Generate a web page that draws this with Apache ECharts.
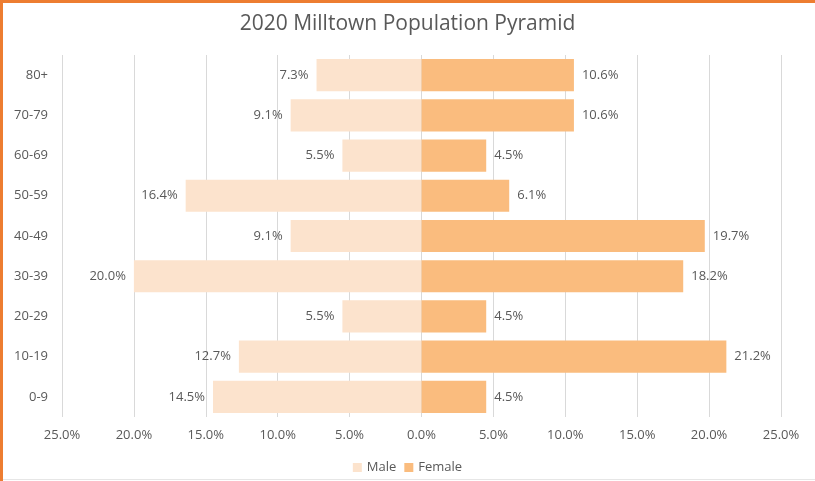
<!DOCTYPE html>
<html>
<head>
<meta charset="utf-8">
<script src="https://cdn.jsdelivr.net/npm/echarts@6/dist/echarts.min.js"></script>
<style>
  html, body { margin: 0; padding: 0; background: #fff; }
  #chart { width: 815px; height: 481px; }
</style>
</head>
<body>
<div id="chart"></div>
<script>
// age groups, bottom to top
var ageGroups = ["0-9", "10-19", "20-29", "30-39", "40-49", "50-59", "60-69", "70-79", "80+"];
var malePct = [14.5, 12.7, 5.5, 20.0, 9.1, 16.4, 5.5, 9.1, 7.3];
var femalePct = [4.5, 21.2, 4.5, 18.2, 19.7, 6.1, 4.5, 10.6, 10.6];
var xTicks = [-25, -20, -15, -10, -5, 0, 5, 10, 15, 20, 25];

var font = "Open Sans";
var textColor = "#595959";

var myChart = echarts.init(document.getElementById("chart"));

var option = {
  backgroundColor: "#fff",
  textStyle: { fontFamily: font },
  title: {
    text: "2020 Milltown Population Pyramid",
    left: "center",
    top: 9,
    textStyle: { fontFamily: font, fontSize: 21, fontWeight: "normal", color: textColor },
  },
  legend: {
    bottom: 2,
    left: "center",
    itemWidth: 9,
    itemHeight: 9,
    itemGap: 8,
    icon: "rect",
    textStyle: { fontFamily: font, fontSize: 13, color: textColor },
    data: ["Male", "Female"],
  },
  grid: {
    left: 62,
    right: 34,
    top: 55,
    bottom: 64,
  },
  xAxis: {
    type: "value",
    min: xTicks[0],
    max: xTicks[xTicks.length - 1],
    interval: 5,
    axisLine: { show: false },
    axisTick: { show: false },
    splitLine: { show: true, lineStyle: { color: "#D9D9D9", width: 1 } },
    axisLabel: {
      margin: 12,
      fontFamily: font,
      fontSize: 13,
      color: textColor,
      formatter: function (v) {
        return Math.abs(v).toFixed(1) + "%";
      },
    },
  },
  yAxis: {
    type: "category",
    data: ageGroups,
    axisLine: { show: false },
    axisTick: { show: false },
    axisLabel: { margin: 14, fontFamily: font, fontSize: 13, color: textColor },
  },
  series: [
    {
      name: "Male",
      type: "bar",
      data: malePct.map(function (v) { return -v; }),
      barWidth: "80%",
      barGap: "-100%",
      itemStyle: { color: "#FCE3CD" },
      label: {
        show: true,
        position: "left",
        distance: 8,
        fontFamily: font,
        fontSize: 13,
        color: textColor,
        formatter: function (p) {
          return Math.abs(p.value).toFixed(1) + "%";
        },
      },
    },
    {
      name: "Female",
      type: "bar",
      data: femalePct,
      barWidth: "80%",
      barGap: "-100%",
      itemStyle: { color: "#FABC7E" },
      label: {
        show: true,
        position: "right",
        distance: 8,
        fontFamily: font,
        fontSize: 13,
        color: textColor,
        formatter: function (p) {
          return p.value.toFixed(1) + "%";
        },
      },
    },
  ],
  graphic: [
    // orange frame edge on the left and top, as in the cropped original
    { type: "rect", left: 0, top: 0, shape: { width: 3, height: 481 }, style: { fill: "#ED7D31" } },
    { type: "rect", left: 0, top: 0, shape: { width: 815, height: 3 }, style: { fill: "#ED7D31" } },
    { type: "rect", left: 3, top: 479, shape: { width: 812, height: 1 }, style: { fill: "#E6E6E6" } },
  ],
};

option && myChart.setOption(option);
</script>
</body>
</html>
